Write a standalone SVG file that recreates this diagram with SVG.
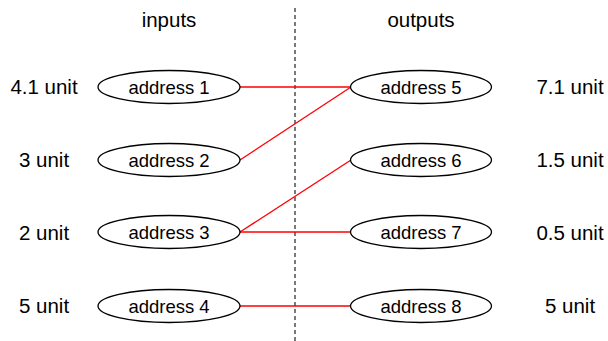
<svg xmlns="http://www.w3.org/2000/svg" width="608" height="341" viewBox="0 0 608 341">
<style>
text{font-family:"Liberation Sans","Open Sans",sans-serif;font-size:20.5px;fill:#000;text-anchor:middle}
.n text{font-size:18.5px}
.n ellipse{fill:#fff;stroke:#000;stroke-width:1.3}
.c line{stroke:#f00;stroke-width:1.3}
</style>
<rect width="608" height="341" fill="#fff"/>
<line x1="295" y1="8" x2="295" y2="341" stroke="#333" stroke-width="1.3" stroke-dasharray="4,3"/>
<text x="169" y="27">inputs</text>
<text x="421" y="27">outputs</text>
<g class="c">
<line x1="240" y1="87" x2="351" y2="87"/>
<line x1="240" y1="160" x2="351" y2="87"/>
<line x1="240" y1="232" x2="351" y2="160"/>
<line x1="240" y1="232" x2="351" y2="232"/>
<line x1="240" y1="306" x2="351" y2="306"/>
</g>
<g id="a1" class="n"><ellipse cx="169" cy="87" rx="71" ry="16.5"/><text x="169" y="93.5">address 1</text></g>
<g id="a2" class="n"><ellipse cx="169" cy="160" rx="71" ry="16.5"/><text x="169" y="166.5">address 2</text></g>
<g id="a3" class="n"><ellipse cx="169" cy="232" rx="71" ry="16.5"/><text x="169" y="238.5">address 3</text></g>
<g id="a4" class="n"><ellipse cx="169" cy="306" rx="71" ry="16.5"/><text x="169" y="312.5">address 4</text></g>
<g id="a5" class="n"><ellipse cx="421" cy="87" rx="70.5" ry="16.5"/><text x="421" y="93.5">address 5</text></g>
<g id="a6" class="n"><ellipse cx="421" cy="160" rx="70.5" ry="16.5"/><text x="421" y="166.5">address 6</text></g>
<g id="a7" class="n"><ellipse cx="421" cy="232" rx="70.5" ry="16.5"/><text x="421" y="238.5">address 7</text></g>
<g id="a8" class="n"><ellipse cx="421" cy="306" rx="70.5" ry="16.5"/><text x="421" y="312.5">address 8</text></g>
<text x="44" y="94">4.1 unit</text>
<text x="44" y="167">3 unit</text>
<text x="44" y="240">2 unit</text>
<text x="44" y="313">5 unit</text>
<text x="570" y="94">7.1 unit</text>
<text x="570" y="167">1.5 unit</text>
<text x="570" y="240">0.5 unit</text>
<text x="570" y="313">5 unit</text>
</svg>
